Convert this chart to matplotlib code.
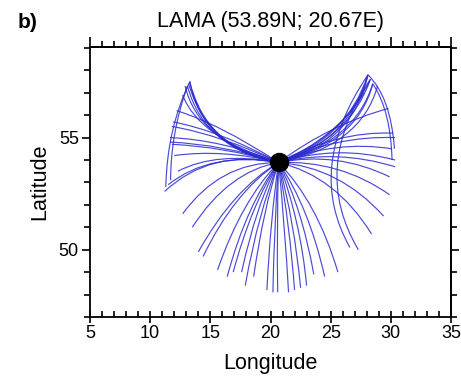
import matplotlib
matplotlib.use("Agg")
import matplotlib.pyplot as plt
from matplotlib.path import Path
from matplotlib.patches import PathPatch
from matplotlib.ticker import MultipleLocator

plt.rcParams['font.family'] = ['Liberation Sans', 'DejaVu Sans']

# Station
station_lon = 20.67
station_lat = 53.89

# Simple trajectories: end point and one bend (control) point
end_lon = [13.3, 12.9, 12.7, 13.5, 13.2,
           12.2, 11.9, 11.8, 11.65, 11.65, 11.8, 12.0,
           11.2, 11.5, 12.3, 12.7, 13.5,
           14.0, 14.4, 15.6, 16.4, 16.9, 17.6, 17.9, 18.6, 19.7, 20.2, 20.6,
           21.5, 22.0, 22.5, 23.0, 23.6, 24.5, 25.6, 28.4, 29.4, 29.9,
           29.9, 30.35, 30.35, 30.1, 30.35, 30.2, 29.8,
           28.1, 28.5, 28.9, 28.3, 27.8]
end_lat = [57.5, 57.3, 56.9, 57.1, 57.4,
           56.2, 55.7, 55.5, 55.0, 54.8, 54.7, 54.2,
           52.6, 52.9, 53.5, 51.6, 51.0,
           49.9, 49.7, 49.1, 48.8, 49.0, 49.0, 48.4, 48.8, 48.2, 48.1, 48.1,
           48.1, 48.2, 48.3, 48.4, 48.9, 48.8, 49.0, 50.7, 51.5, 52.45,
           53.25, 53.7, 54.0, 54.5, 55.0, 55.2, 56.3,
           57.8, 57.4, 57.3, 57.6, 57.0]
bend_lon = [14.3, 14.0, 14.0, 15.0, 14.8,
            15.8, 15.8, 16.0, 16.0, 16.0, 16.0, 16.0,
            15.0, 15.0, 15.5, 15.8, 16.5,
            16.9, 17.0, 17.6, 18.0, 18.4, 18.8, 19.0, 19.4, 20.0, 20.3, 20.5,
            21.2, 21.6, 22.0, 22.5, 22.6, 23.2, 23.9, 25.4, 25.7, 25.8,
            25.5, 25.5, 25.5, 25.5, 25.5, 25.5, 25.0,
            26.5, 27.0, 27.5, 26.0, 25.5]
bend_lat = [54.6, 54.8, 55.0, 54.5, 54.4,
            55.6, 55.3, 55.1, 54.9, 54.7, 54.6, 54.5,
            54.5, 54.4, 54.4, 53.9, 53.5,
            52.7, 52.6, 52.2, 52.0, 52.0, 52.0, 51.7, 51.8, 51.4, 51.0, 51.0,
            51.0, 51.1, 51.2, 51.3, 51.9, 51.9, 52.1, 53.3, 53.7, 54.0,
            54.4, 54.5, 54.7, 54.9, 55.1, 55.3, 55.6,
            54.8, 54.8, 54.6, 55.0, 55.0]

# Hooked trajectories: out to a turning point, then back down
hook_bend1_lon = [14.3, 14.5, 26.3, 26.6, 26.8, 27.2]
hook_bend1_lat = [54.6, 54.5, 54.9, 54.9, 54.7, 54.7]
hook_turn_lon = [13.3, 13.1, 28.1, 28.3, 28.1, 28.5]
hook_turn_lat = [57.5, 57.3, 57.8, 57.6, 57.8, 57.4]
hook_bend2_lon = [11.4, 11.7, 22.85, 23.3, 30.0, 30.0]
hook_bend2_lat = [55.4, 55.2, 53.65, 53.6, 56.8, 56.2]
hook_end_lon = [11.3, 11.7, 26.6, 27.3, 30.3, 30.1]
hook_end_lat = [52.8, 53.1, 50.1, 50.0, 54.5, 54.0]

x_ticks = [5, 10, 15, 20, 25, 30, 35]
y_ticks = [50, 55]

line_color = '#2a2ad0'

fig = plt.figure(figsize=(4.61, 3.82), dpi=100)
ax = fig.add_axes([90/461, 65/382, 361/461, 270/382])

for i in range(len(end_lon)):
    verts = [(station_lon, station_lat), (bend_lon[i], bend_lat[i]),
             (end_lon[i], end_lat[i])]
    codes = [Path.MOVETO, Path.CURVE3, Path.CURVE3]
    ax.add_patch(PathPatch(Path(verts, codes), facecolor='none',
                           edgecolor=line_color, lw=0.85, alpha=0.85))

for i in range(len(hook_end_lon)):
    verts = [(station_lon, station_lat),
             (hook_bend1_lon[i], hook_bend1_lat[i]),
             (hook_turn_lon[i], hook_turn_lat[i]),
             (hook_bend2_lon[i], hook_bend2_lat[i]),
             (hook_end_lon[i], hook_end_lat[i])]
    codes = [Path.MOVETO, Path.CURVE3, Path.CURVE3, Path.CURVE3, Path.CURVE3]
    ax.add_patch(PathPatch(Path(verts, codes), facecolor='none',
                           edgecolor=line_color, lw=0.85, alpha=0.85))

ax.plot([station_lon], [station_lat], 'o', color='black', markersize=13, zorder=5)

ax.set_xlim(5, 35)
ax.set_ylim(47, 59.04)
ax.set_xticks(x_ticks)
ax.set_yticks(y_ticks)
ax.xaxis.set_minor_locator(MultipleLocator(1))
ax.yaxis.set_minor_locator(MultipleLocator(1))
ax.tick_params(axis='x', which='major', direction='inout', length=9, width=1.2,
               labelsize=13, pad=1)
ax.tick_params(axis='x', which='minor', direction='in', length=4, width=1.2)
ax.tick_params(axis='y', which='major', direction='out', length=6, width=1.2,
               labelsize=13, pad=2)
ax.tick_params(axis='y', which='minor', direction='out', length=4, width=1.2)
for s in ax.spines.values():
    s.set_linewidth(1.3)

secx = ax.secondary_xaxis('top')
secx.set_xticks(x_ticks)
secx.xaxis.set_minor_locator(MultipleLocator(1))
secx.tick_params(which='major', direction='out', length=7, width=1.2, labeltop=False)
secx.tick_params(which='minor', direction='out', length=4, width=1.2)
secx.spines['top'].set_linewidth(1.3)
secy = ax.secondary_yaxis('right')
secy.set_yticks(y_ticks)
secy.yaxis.set_minor_locator(MultipleLocator(1))
secy.tick_params(which='major', direction='out', length=6, width=1.2, labelright=False)
secy.tick_params(which='minor', direction='out', length=4, width=1.2)
secy.spines['right'].set_linewidth(1.3)

ax.set_xlabel('Longitude', fontsize=15.5, labelpad=8)
ax.set_ylabel('Latitude', fontsize=15.5, labelpad=6)
fig.text(270/461, 1 - 22/382, 'LAMA (53.89N; 20.67E)', ha='center', va='center',
         fontsize=15.5)
fig.text(18/461, 1 - 22/382, 'b)', ha='left', va='center', fontsize=15,
         fontweight='bold')

fig.savefig('out.png', dpi=100)
